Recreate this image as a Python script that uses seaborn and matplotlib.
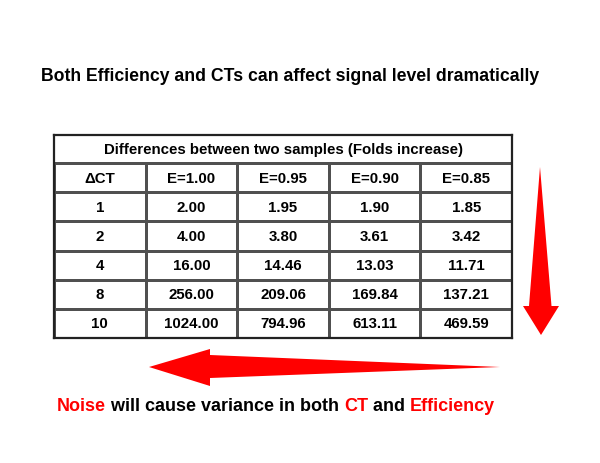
import numpy as np
import pandas as pd
import matplotlib
matplotlib.use("Agg")
import matplotlib.pyplot as plt
from matplotlib.colors import ListedColormap
from matplotlib.patches import Polygon
import seaborn as sns

# table values (folds increase between two samples)
delta_ct = [1, 2, 4, 8, 10]
efficiencies = ["E=1.00", "E=0.95", "E=0.90", "E=0.85"]
fold_e100 = [2.00, 4.00, 16.00, 256.00, 1024.00]
fold_e095 = [1.95, 3.80, 14.46, 209.06, 794.96]
fold_e090 = [1.90, 3.61, 13.03, 169.84, 613.11]
fold_e085 = [1.85, 3.42, 11.71, 137.21, 469.59]

table_title = "Differences between two samples (Folds increase)"
main_title = "Both Efficiency and CTs can affect signal level dramatically"
footer_parts = [("Noise", "#ff0000"), (" will cause variance in both ", "black"),
                ("CT", "#ff0000"), (" and ", "black"), ("Efficiency", "#ff0000")]

sns.set_style("white")
plt.rcParams["font.family"] = ["Liberation Sans", "DejaVu Sans"]
plt.rcParams["font.weight"] = "bold"

# build the cell labels: header row + data rows
df = pd.DataFrame({"ΔCT": delta_ct, efficiencies[0]: fold_e100,
                   efficiencies[1]: fold_e095, efficiencies[2]: fold_e090,
                   efficiencies[3]: fold_e085})
labels = [list(df.columns)]
for _, row in df.iterrows():
    labels.append([str(int(row["ΔCT"]))] + [f"{v:.2f}" for v in row[efficiencies]])
labels = np.array(labels)

W, H = 600, 464
fig = plt.figure(figsize=(W / 100, H / 100), dpi=100)
fig.patch.set_facecolor("white")

# overlay axes in pixel coordinates for the text and arrows
ov = fig.add_axes([0, 0, 1, 1])
ov.set_xlim(0, W)
ov.set_ylim(H, 0)
ov.axis("off")

# table axes
left, right, top, bottom = 54, 512, 136, 339
ax = fig.add_axes([left / W, 1 - bottom / H, (right - left) / W, (bottom - top) / H])
sns.heatmap(np.zeros(labels.shape), annot=labels, fmt="", cmap=ListedColormap(["white"]),
            cbar=False, linewidths=0.75, linecolor="#505050",
            xticklabels=False, yticklabels=False, ax=ax,
            annot_kws={"fontsize": 10.8, "fontweight": "bold", "color": "black"})
ax.set_ylim(labels.shape[0], -0.96)
ax.axhline(0, color="#505050", lw=0.75)
ax.text(labels.shape[1] / 2, -0.47, table_title, ha="center", va="center",
        fontsize=10.8, fontweight="bold", color="black")
for s in ax.spines.values():
    s.set_visible(True)
    s.set_linewidth(1.6)
    s.set_color("#222222")

# title
ov.text(290.5, 81, main_title, ha="center", va="baseline", fontsize=12.7,
        fontweight="bold", color="black")

# footer with coloured words
renderer = fig.canvas.get_renderer()
FOOT_SIZE = 13.0
def text_width(s):
    t = ov.text(0, 0, s + "|", fontsize=FOOT_SIZE, fontweight="bold")
    w1 = t.get_window_extent(renderer).width
    t.remove()
    t = ov.text(0, 0, "|", fontsize=FOOT_SIZE, fontweight="bold")
    w2 = t.get_window_extent(renderer).width
    t.remove()
    return w1 - w2

x0 = 57
prefix = ""
for txt, col in footer_parts:
    ov.text(x0 + text_width(prefix), 411, txt, color=col, fontsize=FOOT_SIZE,
            fontweight="bold", va="baseline", ha="left")
    prefix += txt

# arrows
down = [(540, 168), (551.5, 307), (559, 307), (541, 336), (523, 307), (529, 307)]
leftarrow = [(500, 368), (210, 379), (210, 387), (149, 368), (210, 350), (210, 356)]
for pts in (down, leftarrow):
    ov.add_patch(Polygon(pts, closed=True, facecolor="#ff0000", edgecolor="none"))

fig.savefig("out.png", dpi=100, facecolor="white")
